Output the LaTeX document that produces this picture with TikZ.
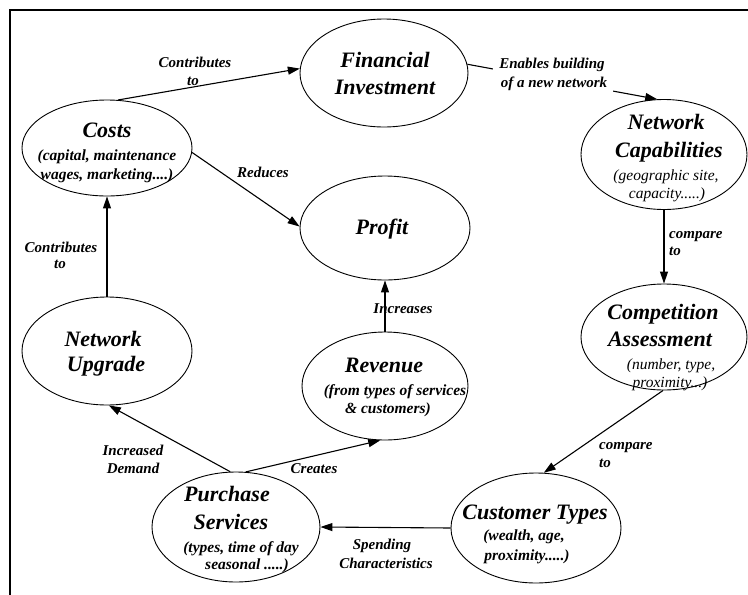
\documentclass[tikz,border=0pt]{standalone}
\usepackage{fontspec}
\setmainfont{Liberation Serif}
\usetikzlibrary{shapes.geometric,arrows.meta}
\tikzset{
  ell/.style={draw, ellipse, inner sep=0pt, line width=0.9pt},
  ttl/.style={font=\fontsize{22}{26}\selectfont\bfseries\itshape, anchor=base, inner sep=0pt},
  sub/.style={font=\fontsize{15.5}{18}\selectfont\bfseries\itshape, anchor=base, inner sep=0pt},
  subr/.style={font=\fontsize{15.5}{18}\selectfont\itshape, anchor=base, inner sep=0pt},
  lab/.style={font=\fontsize{15}{18}\selectfont\bfseries\itshape, anchor=base, inner sep=0pt},
  labw/.style={lab, fill=white, inner xsep=6pt, inner ysep=4pt},
  conn/.style={line width=1.1pt, -{Triangle[length=12pt,width=8pt]}},
  frame/.style={line width=1.4pt}
}
\begin{document}
\begin{tikzpicture}[x=1pt,y=-1pt]
\useasboundingbox (0,0) rectangle (748,595);
% frame
\coordinate (fTL) at (10,10);
\coordinate (fTR) at (748,10);
\coordinate (fBL) at (10,595);
\draw[frame] (fTR) -- (fTL) -- (fBL);

% ellipses
\node[ell, minimum width=168pt, minimum height=108pt] (fin) at (384,73) {};
\node[ell, minimum width=170pt, minimum height=96pt] (cost) at (107,148) {};
\node[ell, minimum width=170pt, minimum height=104pt] (prof) at (385,228) {};
\node[ell, minimum width=166pt, minimum height=110pt] (ncap) at (664,154.5) {};
\node[ell, minimum width=166pt, minimum height=106pt] (comp) at (664,337) {};
\node[ell, minimum width=170pt, minimum height=110pt] (cust) at (536,528) {};
\node[ell, minimum width=168pt, minimum height=110pt] (purch) at (236,527) {};
\node[ell, minimum width=166pt, minimum height=108pt] (rev) at (385,386) {};
\node[ell, minimum width=170pt, minimum height=108pt] (nup) at (107,351) {};

% texts inside ellipses
\node[ttl] (finA) at (385,67) {Financial};
\node[ttl] (finB) at (385,94) {Investment};

\node[ttl] (costA) at (107,137) {Costs};
\node[sub] (costB) at (107,160) {(capital, maintenance};
\node[sub] (costC) at (107,179) {wages, marketing....)};

\node[ttl] (profA) at (382,234) {Profit};

\node[ttl] (ncapA) at (666,129) {Network};
\node[ttl] (ncapB) at (669,157) {Capabilities};
\node[subr] (ncapC) at (666,180) {(geographic site,};
\node[subr] (ncapD) at (667,198) {capacity.....)};

\node[ttl] (compA) at (663,319) {Competition};
\node[ttl] (compB) at (660,346) {Assessment};
\node[subr] (compC) at (671,369) {(number, type,};
\node[subr] (compD) at (670,387) {proximity...)};

\node[ttl] (custA) at (535,519) {Customer Types};
\node[sub] (custB) at (524,540) {(wealth, age,};
\node[sub] (custC) at (527,560) {proximity.....)};

\node[ttl] (purchA) at (227,501) {Purchase};
\node[ttl] (purchB) at (231,529) {Services};
\node[sub] (purchC) at (241,552) {(types, time of day};
\node[sub] (purchD) at (247,569) {seasonal .....)};

\node[ttl] (revA) at (384,372) {Revenue};
\node[sub] (revB) at (395,395) {(from types of services};
\node[sub] (revC) at (388,413) {\& customers)};

\node[ttl] (nupA) at (103,346) {Network};
\node[ttl] (nupB) at (106,371) {Upgrade};

% connectors
\draw[conn] (cost.77) -- (fin.177);
\draw[conn] (fin.6) -- (ncap.97);
\draw[conn] (cost.-3) -- (prof.179);
\draw[conn] (nup.90) -- (cost.270);
\draw[conn] (rev.90) -- (prof.270);
\draw[conn] (ncap.270) -- (comp.90);
\draw[conn] (comp.269) -- (cust.82);
\draw[conn] (cust.180) -- (purch.0);
\draw[conn] (purch.96) -- (nup.272);
\draw[conn] (purch.80) -- (rev.265);

% connector labels
\node[lab] (l1a) at (195,67) {Contributes};
\node[lab] (l1b) at (193,85) {to};
\node[labw] (l2a) at (552,68) {Enables building};
\node[labw] (l2b) at (554,87) {of a new network};
\node[lab] (l3) at (263,177) {Reduces};
\node[lab] (l4a) at (61,252) {Contributes};
\node[lab] (l4b) at (60,268) {to};
\node[lab] (l5) at (403,313) {Increases};
\node[lab, anchor=base west] (l6a) at (669,238) {compare};
\node[lab, anchor=base west] (l6b) at (669,255) {to};
\node[lab, anchor=base west] (l7a) at (599,449) {compare};
\node[lab, anchor=base west] (l7b) at (599,467) {to};
\node[lab] (l8a) at (382,549) {Spending};
\node[lab] (l8b) at (386,568) {Characteristics};
\node[lab] (l9a) at (133,455) {Increased};
\node[lab] (l9b) at (133,473) {Demand};
\node[lab] (l10) at (314,473) {Creates};
\end{tikzpicture}
\end{document}
